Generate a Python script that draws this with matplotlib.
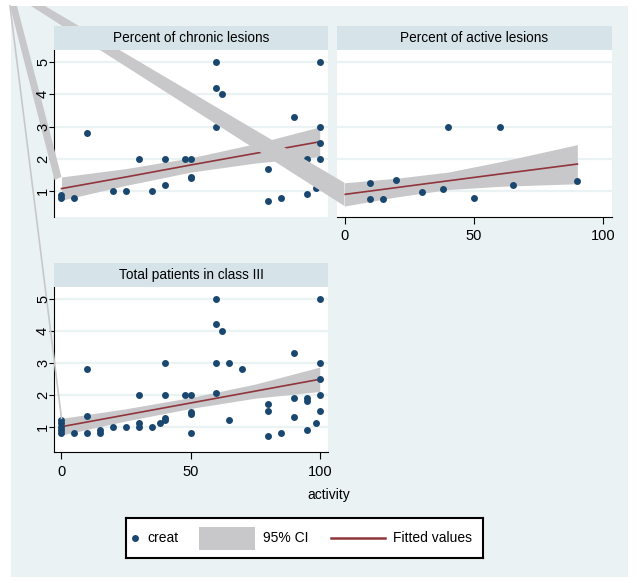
import matplotlib
matplotlib.use('Agg')
import matplotlib.pyplot as plt
from matplotlib.patches import Rectangle, Polygon
import numpy as np

plt.rcParams['font.family'] = ['Liberation Sans Narrow', 'Liberation Sans', 'DejaVu Sans']

W, H = 639, 583

# Panel titles
titles = ["Percent of chronic lesions", "Percent of active lesions", "Total patients in class III"]

# Percent of chronic lesions: scatter (activity, creat)
chr_x = [0, 0, 5, 10, 20, 25, 30, 35, 40, 40, 48, 50, 50, 50, 60, 60, 62, 60,
         80, 80, 85, 90, 95, 95, 98.5, 100, 100, 100, 100]
chr_y = [0.78, 0.88, 0.78, 2.8, 1.0, 1.0, 2.0, 1.0, 2.0, 1.2, 2.0, 2.0, 1.45, 1.4,
         5.0, 4.2, 4.0, 3.0, 1.7, 0.7, 0.8, 3.3, 0.9, 2.0, 1.1, 5.0, 3.0, 2.5, 2.0]
chr_fit_x = [0, 25, 50, 75, 100]
chr_fit = [1.08, 1.44, 1.81, 2.17, 2.53]
chr_hi = [1.44, 1.70, 2.03, 2.47, 2.99]
chr_lo = [0.72, 1.18, 1.59, 1.87, 2.07]

# Percent of active lesions
act_x = [10, 10, 15, 20, 30, 38, 40, 50, 60, 65, 90]
act_y = [1.26, 0.77, 0.77, 1.36, 0.96, 1.07, 3.0, 0.8, 3.0, 1.19, 1.3]
act_fit_x = [0, 20, 40, 60, 90]
act_fit = [0.90, 1.11, 1.32, 1.53, 1.84]
act_hi = [1.26, 1.40, 1.59, 1.91, 2.44]
act_lo = [0.54, 0.82, 1.05, 1.15, 1.23]

# Total patients in class III
tot_x = [0, 0, 0, 0, 0, 5, 10, 10, 10, 15, 15, 20, 25, 30, 30, 30, 35, 38,
         40, 40, 40, 40, 48, 50, 50, 50, 50, 60, 60, 62, 60, 60, 65, 65, 70,
         80, 80, 80, 85, 90, 90, 90, 95, 95, 95, 98.5, 100, 100, 100, 100, 100]
tot_y = [0.8, 0.9, 1.0, 1.1, 1.2, 0.8, 2.8, 1.34, 0.8, 0.9, 0.8, 1.0, 1.0, 2.0, 1.1, 1.0, 1.0, 1.1,
         3.0, 2.0, 1.27, 1.2, 2.0, 2.0, 1.45, 1.4, 0.8, 5.0, 4.2, 4.0, 3.0, 2.05, 3.0, 1.2, 2.8,
         1.7, 1.5, 0.7, 0.8, 3.3, 1.9, 1.3, 1.9, 1.8, 0.9, 1.1, 5.0, 3.0, 2.5, 2.0, 1.5]
tot_fit_x = [0, 25, 50, 75, 100]
tot_fit = [1.00, 1.37, 1.74, 2.11, 2.48]
tot_hi = [1.26, 1.56, 1.91, 2.33, 2.86]
tot_lo = [0.74, 1.18, 1.57, 1.89, 2.10]

x_ticks = [0, 50, 100]
y_ticks = [1, 2, 3, 4, 5]

bg = '#eaf2f3'
bar_col = '#d6e4ea'
navy = '#1a476f'
maroon = '#90353b'
ci_col = '#c8c8ca'
tick_fs = 10.5
txt_fs = 10


def rect(l, t, r, b):
    return [l / W, 1 - b / H, (r - l) / W, (b - t) / H]


fig = plt.figure(figsize=(W / 100, H / 100), dpi=100, facecolor='white')
fig.patches.append(Rectangle((11 / W, 1 - 577 / H), (628 - 11) / W, (577 - 6) / H,
                             transform=fig.transFigure, facecolor=bg, edgecolor='none', zorder=-10))


def panel(box, xs, ys, fx, fit, hi, lo, left, bottom):
    ax = fig.add_axes(rect(*box))
    ax.set_facecolor('white')
    ax.fill_between(fx, lo, hi, color=ci_col, lw=0, zorder=1)
    ax.plot(fx, fit, color=maroon, lw=1.2, zorder=2)
    ax.plot(xs, ys, 'o', color=navy, ms=5, mec='none', zorder=3)
    ax.set_xlim(-2.9, 103.2)
    ax.set_ylim(0.21, 5.37)
    ax.set_yticks(y_ticks)
    ax.set_xticks(x_ticks)
    ax.grid(axis='y', color=bg, lw=1.6, zorder=0)
    ax.set_axisbelow(True)
    for s in ['top', 'right']:
        ax.spines[s].set_visible(False)
    ax.spines['left'].set_visible(left)
    ax.spines['bottom'].set_visible(bottom)
    ax.tick_params(axis='y', left=left, labelleft=False, length=3.6, width=0.8)
    ax.tick_params(axis='x', bottom=bottom, labelbottom=bottom, length=5, width=0.8,
                   labelsize=tick_fs, pad=4)
    return ax


ax_chr = panel((54, 50, 328, 216.7), chr_x, chr_y, chr_fit_x, chr_fit, chr_hi, chr_lo, True, False)
ax_act = panel((337, 50, 611.5, 216.7), act_x, act_y, act_fit_x, act_fit, act_hi, act_lo, False, True)
ax_tot = panel((54, 286.7, 328, 452), tot_x, tot_y, tot_fit_x, tot_fit, tot_hi, tot_lo, True, True)

# stray CI outline artefacts of the original export
ov = fig.add_axes([0, 0, 1, 1], zorder=5)
ov.set_xlim(0, W)
ov.set_ylim(H, 0)
ov.axis('off')
ov.patch.set_alpha(0)


def to_px(ax, x, y):
    return ov.transData.inverted().transform(ax.transData.transform((x, y)))


a_hi = to_px(ax_act, act_fit_x[0], act_hi[0])
a_lo = to_px(ax_act, act_fit_x[0], act_lo[0])
ov.add_patch(Polygon([(31, 6), (45, 6), a_hi, a_lo], closed=True, color=ci_col, lw=0))
c_hi = to_px(ax_chr, chr_fit_x[0], chr_hi[0])
ov.add_patch(Polygon([(10, 6), (17, 6), c_hi, (c_hi[0] - 7, c_hi[1] + 3)], closed=True, color=ci_col, lw=0))
t_hi = to_px(ax_tot, tot_fit_x[0], tot_hi[0])
ov.plot([10, t_hi[0]], [6, t_hi[1]], color=ci_col, lw=1.2)

# y tick labels of the left panels, drawn above the artefacts
for ax in [ax_chr, ax_tot]:
    for t in y_ticks:
        py = ax.transData.transform((0, t))[1]
        fig.text(43 / W, py / fig.bbox.height, str(t), rotation=90, ha='center', va='center',
                 fontsize=tick_fs, zorder=7)

# panel title bars
for box, t in zip([(54, 26, 328, 50), (337, 26, 611.5, 50), (54, 263, 328, 286.7)], titles):
    tb = fig.add_axes(rect(*box), zorder=6)
    tb.set_facecolor(bar_col)
    tb.set_xticks([])
    tb.set_yticks([])
    for s in tb.spines.values():
        s.set_visible(False)
    tb.text(0.5, 0.5, t, ha='center', va='center', fontsize=9.8, transform=tb.transAxes)

fig.text(329 / W, 1 - 495 / H, 'activity', ha='center', va='center', fontsize=txt_fs)

# legend
lg = fig.add_axes(rect(126, 518, 483, 558), zorder=6)
lg.set_xlim(0, 357)
lg.set_ylim(40, 0)
lg.set_xticks([])
lg.set_yticks([])
for s in lg.spines.values():
    s.set_linewidth(1.5)
    s.set_color('black')
lg.plot([9], [20], 'o', color=navy, ms=5, mec='none')
lg.text(21, 20.5, 'creat', va='center', fontsize=txt_fs)
lg.add_patch(Rectangle((73, 8.7), 56, 23.3, color=ci_col, lw=0))
lg.text(137, 20.5, '95% CI', va='center', fontsize=txt_fs)
lg.plot([205, 259], [20, 20], color=maroon, lw=1.8)
lg.text(267, 20.5, 'Fitted values', va='center', fontsize=txt_fs)

fig.savefig('out.png', dpi=100, facecolor='white')
